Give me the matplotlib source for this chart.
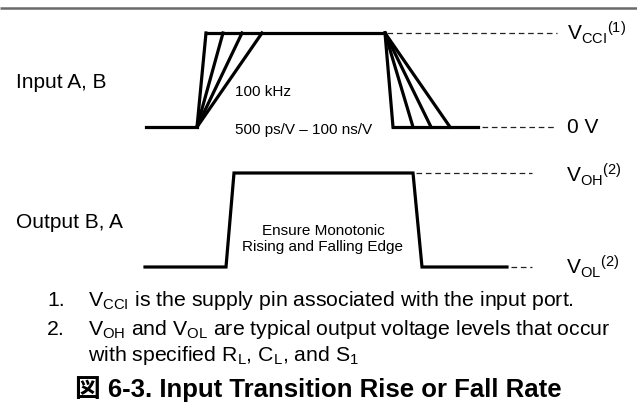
import matplotlib
matplotlib.use("Agg")
import matplotlib.pyplot as plt

plt.rcParams['font.family'] = ['Liberation Sans', 'Noto Sans CJK JP', 'DejaVu Sans']
plt.rcParams['mathtext.fontset'] = 'custom'
plt.rcParams['mathtext.rm'] = 'Liberation Sans'
plt.rcParams['mathtext.it'] = 'Liberation Sans'

# ---- waveform data (pixel-like units) ----
in_low_y, in_high_y = 127, 33
in_low_x = [146, 197]
in_rise_top_x = [206, 223, 242, 262]
in_high_end_x = 385
in_fall_bot_x = [393, 413, 431, 450]
in_low2_end_x = 478
in_dash_end_x = 557

out_x = [145, 226, 234, 413, 422, 507]
out_y = [267, 267, 173, 173, 267, 267]
out_dash_end_x = 532

fig = plt.figure(figsize=(6.37, 4.15), dpi=100)
ax = fig.add_axes([0, 0, 1, 1])
ax.set_xlim(0, 637)
ax.set_ylim(415, 0)
ax.axis('off')

lw = 2.3
k = 'black'
# top rule
ax.plot([0, 637], [8, 8], color='#6a6a6a', lw=1.8, solid_capstyle='butt')

# input waveform
ax.plot(in_low_x, [in_low_y, in_low_y], color=k, lw=lw)
for xt in in_rise_top_x:
    ax.plot([in_low_x[1], xt], [in_low_y, in_high_y], color=k, lw=lw)
ax.plot([in_rise_top_x[0], in_high_end_x], [in_high_y, in_high_y], color=k, lw=lw)
for xb in in_fall_bot_x:
    ax.plot([in_high_end_x, xb], [in_high_y, in_low_y], color=k, lw=lw)
ax.plot([in_fall_bot_x[0], in_low2_end_x], [in_low_y, in_low_y], color=k, lw=lw)
dash = dict(color='#222222', lw=0.9, dashes=(4.5, 3))
ax.plot([in_high_end_x + 2, in_dash_end_x], [in_high_y, in_high_y], **dash)
ax.plot([in_low2_end_x + 4, in_dash_end_x], [in_low_y, in_low_y], **dash)

# output waveform
ax.plot(out_x, out_y, color=k, lw=lw, solid_joinstyle='miter')
ax.plot([out_x[3] + 3, out_dash_end_x], [out_y[3], out_y[3]], **dash)
ax.plot([out_x[5] + 4, out_dash_end_x], [out_y[5], out_y[5]], **dash)

# labels
fs_big = 15
ax.text(16, 83, 'Input A, B', fontsize=fs_big, va='center', ha='left')
ax.text(16, 222, 'Output B, A', fontsize=fs_big, va='center', ha='left')
ax.text(235, 92, '100 kHz', fontsize=11, va='center', ha='left')
ax.text(235, 130, '500 ps/V \u2013 100 ns/V', fontsize=11, va='center', ha='left')
ax.text(323, 239, 'Ensure Monotonic\nRising and Falling Edge', fontsize=11,
        va='center', ha='center', linespacing=1.15)

ax.text(567, 33, r'V$_{\mathregular{CCI}}$$^{\mathregular{(1)}}$', fontsize=fs_big, va='center', ha='left')
ax.text(567, 127, '0 V', fontsize=fs_big, va='center', ha='left')
ax.text(566, 175, r'V$_{\mathregular{OH}}$$^{\mathregular{(2)}}$', fontsize=fs_big, va='center', ha='left')
ax.text(566, 267, r'V$_{\mathregular{OL}}$$^{\mathregular{(2)}}$', fontsize=fs_big, va='center', ha='left')

# footnotes
fs_note = 15.3
ax.text(47, 300, '1.', fontsize=fs_note, va='center', ha='left')
ax.text(88, 300, r'V$_{\mathregular{CCI}}$ is the supply pin associated with the input port.',
        fontsize=fs_note, va='center', ha='left')
ax.text(47, 329, '2.', fontsize=fs_note, va='center', ha='left')
ax.text(88, 329, r'V$_{\mathregular{OH}}$ and V$_{\mathregular{OL}}$ are typical output voltage levels that occur',
        fontsize=fs_note, va='center', ha='left')
ax.text(88, 355, r'with specified R$_{\mathregular{L}}$, C$_{\mathregular{L}}$, and S$_{\mathregular{1}}$',
        fontsize=fs_note, va='center', ha='left')

ax.text(318, 389, '図 6-3. Input Transition Rise or Fall Rate', fontsize=18.5,
        fontweight='bold', va='center', ha='center')

fig.savefig('out.png', dpi=100)
